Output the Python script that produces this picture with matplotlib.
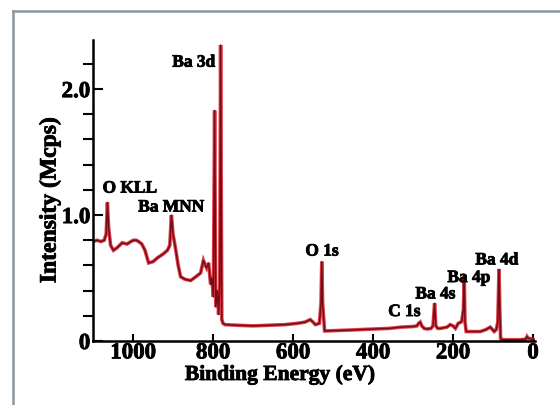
import matplotlib
matplotlib.use("Agg")
import matplotlib.pyplot as plt
import matplotlib.patheffects as pe
from matplotlib.lines import Line2D
from matplotlib.ticker import FixedLocator, FixedFormatter, MultipleLocator

# survey spectrum (binding energy, Mcps)
be = [1100, 1090, 1080, 1072, 1067, 1064, 1061, 1056, 1049, 1040, 1027, 1015,
      1005, 999, 992, 986, 978, 970, 961, 950, 939, 925, 914, 908, 904, 900,
      894, 887, 881, 870, 856, 843, 831, 824, 819, 816, 811, 806, 803, 799,
      796, 793, 789, 786, 783, 781, 778, 775, 770, 740, 700, 660, 620, 590,
      570, 557, 550, 544, 534, 530, 528, 526, 521, 517, 500, 450, 400, 360,
      330, 300, 290, 286, 282, 278, 272, 265, 255, 250, 246, 243, 238, 232,
      215, 207, 200, 194, 187, 180, 178, 174, 172, 170, 167, 160, 145, 132,
      118, 107, 101, 97, 92, 88, 85, 83, 81, 79, 70, 50, 35, 25, 18, 15, 12,
      8, 0, -5]
counts = [0.79, 0.80, 0.79, 0.80, 0.85, 1.10, 0.90, 0.76, 0.72, 0.74, 0.78, 0.77,
          0.79, 0.80, 0.80, 0.79, 0.77, 0.72, 0.62, 0.63, 0.66, 0.69, 0.72, 0.76,
          1.00, 0.85, 0.74, 0.60, 0.51, 0.49, 0.48, 0.51, 0.54, 0.64, 0.60, 0.58,
          0.62, 0.45, 0.50, 0.35, 1.83, 0.27, 0.40, 0.21, 0.45, 2.35, 0.17, 0.14,
          0.13, 0.125, 0.12, 0.125, 0.13, 0.14, 0.15, 0.17, 0.15, 0.13, 0.14,
          0.30, 0.63, 0.30, 0.08, 0.08, 0.082, 0.088, 0.095, 0.10, 0.11, 0.115,
          0.12, 0.14, 0.15, 0.12, 0.10, 0.095, 0.10, 0.12, 0.30, 0.12, 0.10,
          0.10, 0.11, 0.13, 0.12, 0.10, 0.14, 0.15, 0.16, 0.25, 0.52, 0.15,
          0.075, 0.075, 0.075, 0.075, 0.09, 0.11, 0.09, 0.075, 0.09, 0.15, 0.57,
          0.25, 0.02, 0.012, 0.01, 0.01, 0.01, 0.012, 0.015, 0.035, 0.02, 0.02,
          0.01, 0.01]

peak_labels = ["Ba 3d", "O KLL", "Ba MNN", "O 1s", "C 1s", "Ba 4s", "Ba 4p", "Ba 4d"]
label_be = [794, 1076, 987, 569, 362, 294, 214, 144]
label_y = [2.21, 1.21, 1.06, 0.71, 0.23, 0.37, 0.50, 0.64]
label_ha = ["right", "left", "left", "left", "left", "left", "left", "left"]

plt.rcParams["font.family"] = ["Liberation Serif", "DejaVu Serif"]
plt.rcParams["font.weight"] = "bold"
heavy = [pe.withStroke(linewidth=0.6, foreground="black")]

fig = plt.figure(figsize=(5.6, 4.05), dpi=100)
ax = fig.add_axes([93 / 560, 1 - 341 / 405, 442 / 560, 301 / 405])

ax.plot(be, counts, color="#d8202e", lw=2.6, alpha=0.85, solid_joinstyle="miter")
ax.plot(be, counts, color="#7a0a12", lw=1.1)

for t, x, y, ha in zip(peak_labels, label_be, label_y, label_ha):
    ax.text(x, y, t, ha=ha, va="center", fontsize=12.5, fontweight="bold",
            path_effects=heavy)

ax.set_xlim(1100, -5)
ax.set_ylim(0, 2.39)
ax.xaxis.set_major_locator(FixedLocator([1000, 800, 600, 400, 200, 0]))
ax.yaxis.set_major_locator(FixedLocator([0, 1.0, 2.0]))
ax.yaxis.set_major_formatter(FixedFormatter(["0", "1.0", "2.0"]))
ax.yaxis.set_minor_locator(MultipleLocator(0.2))
ax.tick_params(direction="in", width=1.5, labelsize=16.5)
ax.tick_params(axis="y", which="major", length=7, pad=2)
ax.tick_params(axis="y", which="minor", length=7, width=1.5)
ax.tick_params(axis="x", length=5, pad=1)
for lab in ax.get_xticklabels() + ax.get_yticklabels():
    lab.set_path_effects(heavy)
for s in ["top", "right"]:
    ax.spines[s].set_visible(False)
for s in ["left", "bottom"]:
    ax.spines[s].set_linewidth(1.8)

ax.set_xlabel("Binding Energy (eV)", fontsize=15.5, fontweight="bold", path_effects=heavy)
ax.set_ylabel("Intensity (Mcps)", fontsize=17, fontweight="bold", path_effects=heavy)
ax.xaxis.set_label_coords((280 - 93) / 442, -(375 - 341) / 301)
ax.xaxis.label.set_va("center")
ax.yaxis.set_label_coords((50 - 93) / 442, (341 - 200) / 301)
ax.yaxis.label.set_va("center")

# grey frame of the screenshot
fig.add_artist(Line2D([13 / 560, 1], [1 - 11 / 405, 1 - 11 / 405], color="#8a969c", lw=1.8))
fig.add_artist(Line2D([13 / 560, 13 / 560], [0, 1 - 11 / 405], color="#8a969c", lw=1.8))

fig.savefig("out.png", dpi=100)
